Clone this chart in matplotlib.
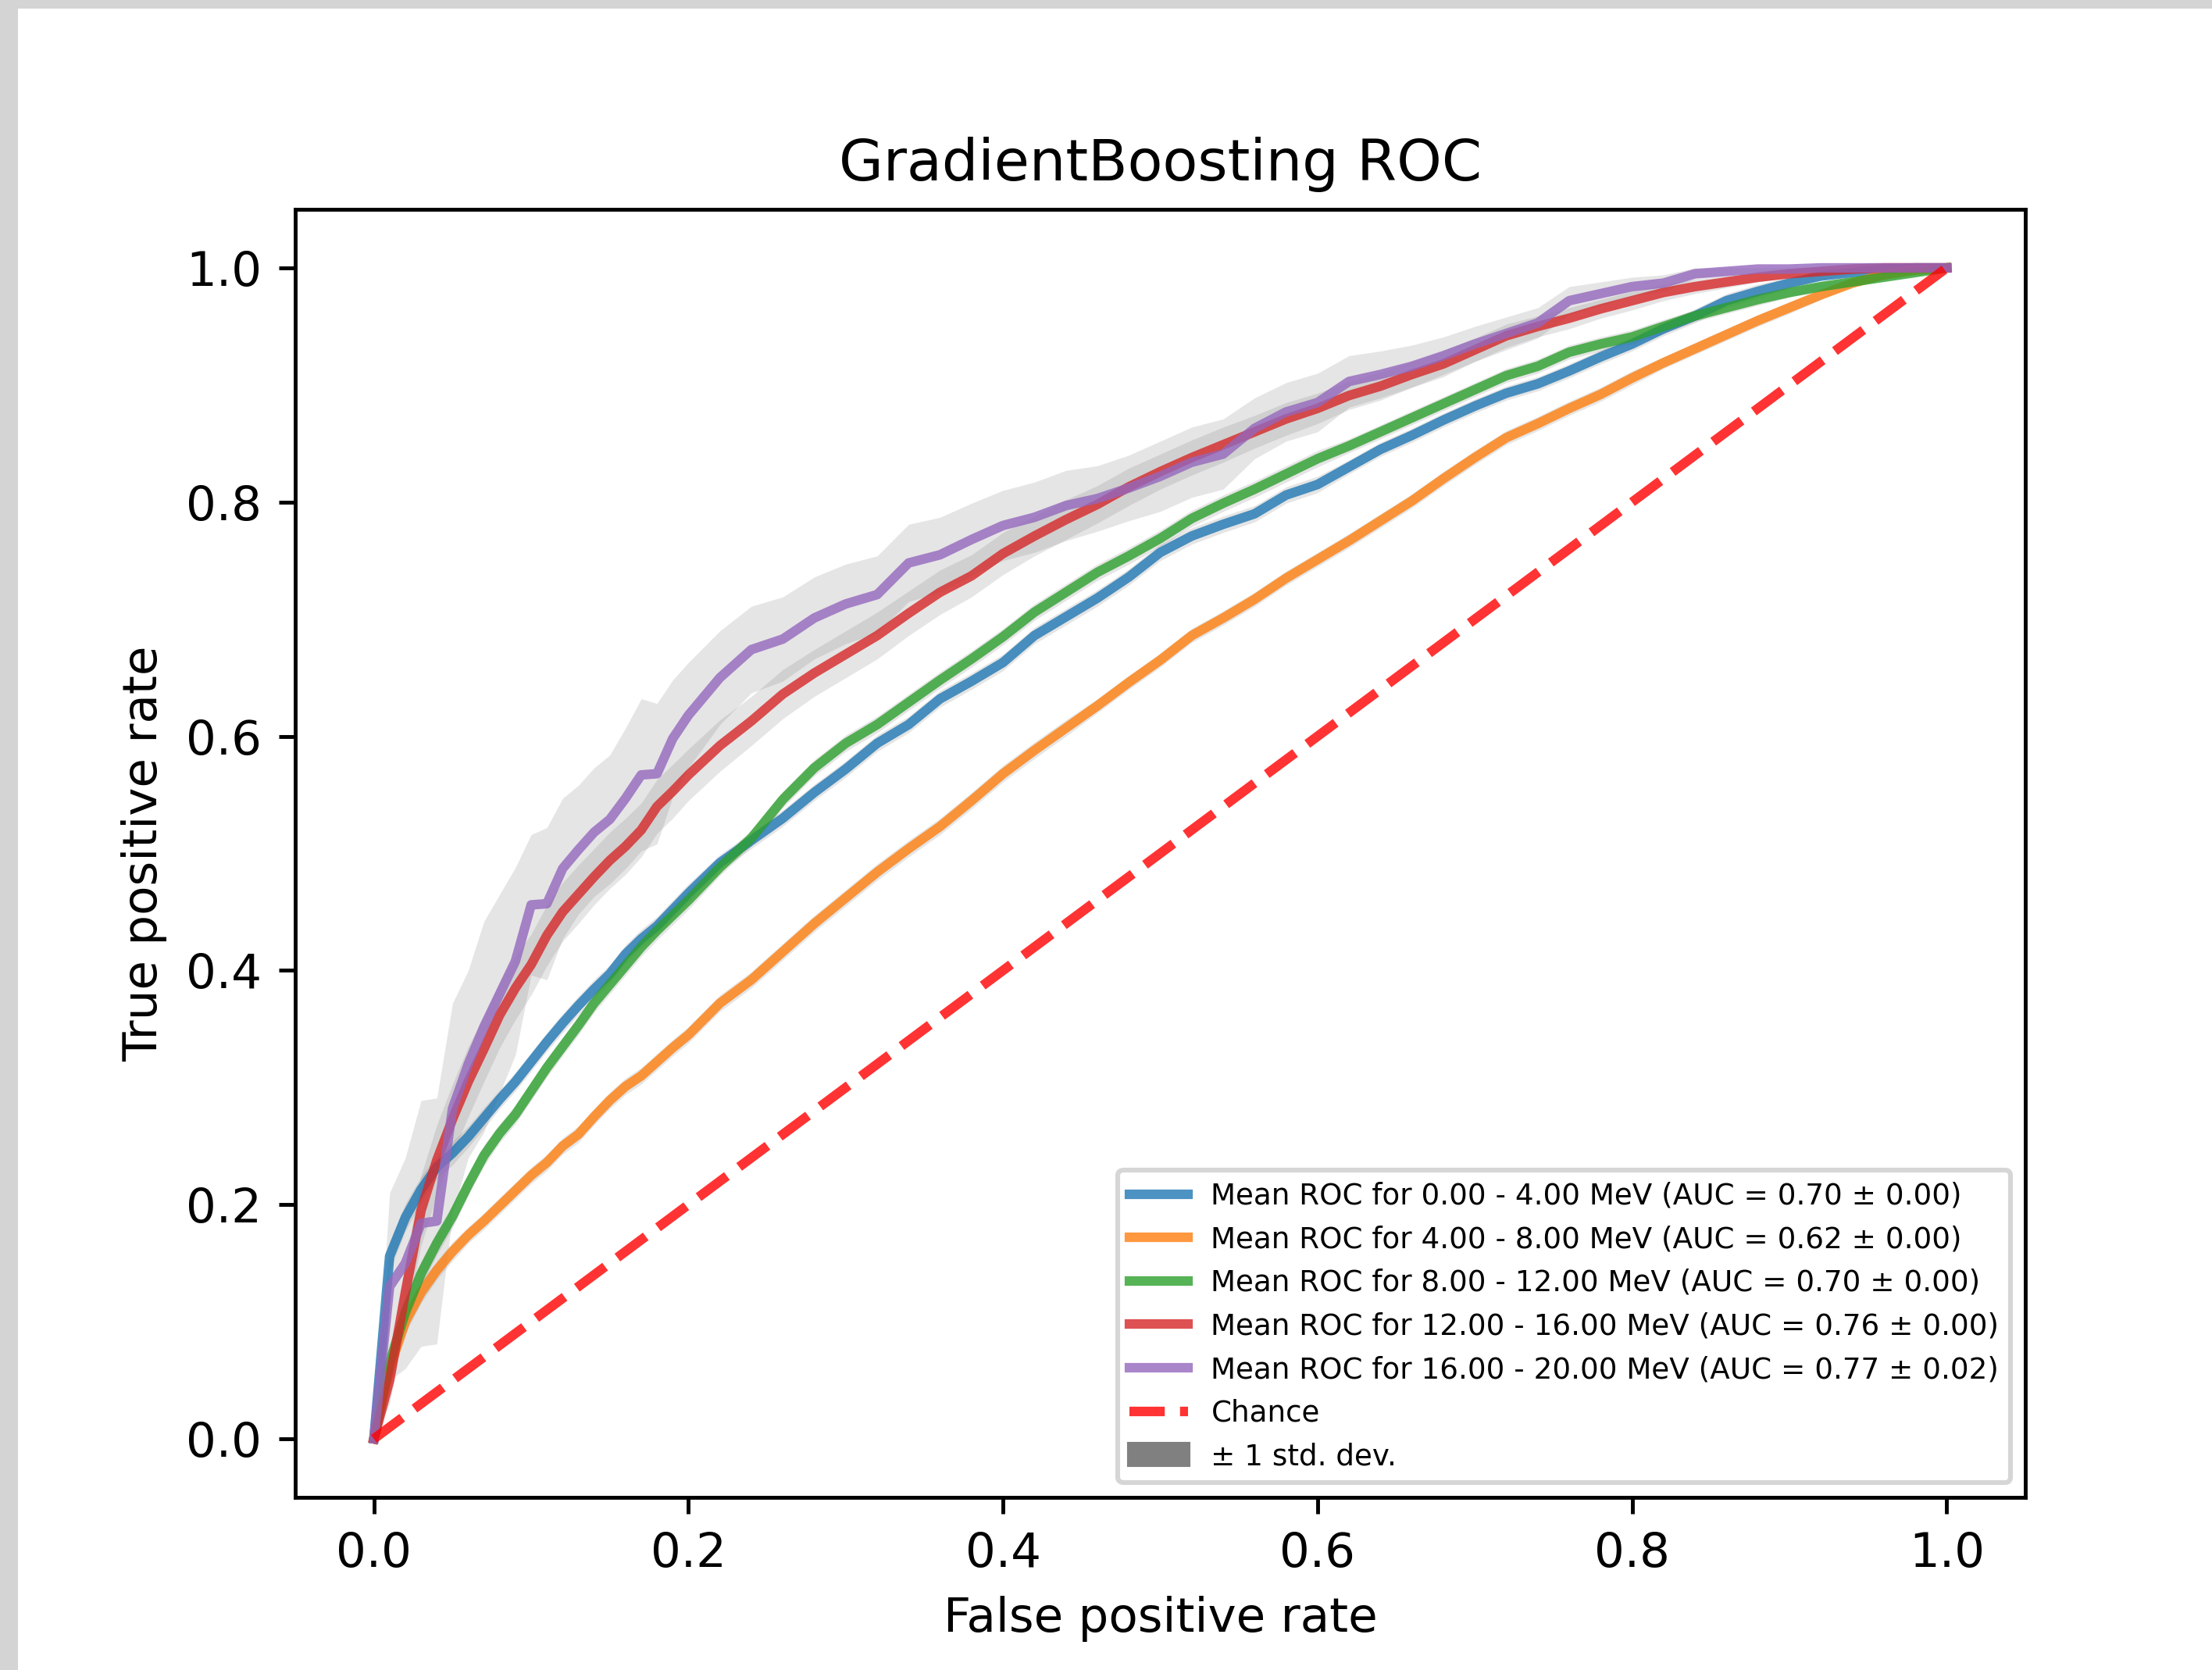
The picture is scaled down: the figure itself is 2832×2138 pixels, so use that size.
"""
GradientBoosting ROC: mean ROC curve per energy bin with +/- 1 std band.
"""
import matplotlib
matplotlib.use("Agg")
import matplotlib.pyplot as plt
from matplotlib.patches import Patch, Rectangle

DPI = 440

# mean false positive rate grid (fine at the start, coarser afterwards)
FPR = [0.00, 0.01, 0.02, 0.03, 0.04, 0.05, 0.06, 0.07, 0.08, 0.09,
       0.10, 0.11, 0.12, 0.13, 0.14, 0.15, 0.16, 0.17, 0.18, 0.19, 0.20,
       0.22, 0.24, 0.26, 0.28, 0.30, 0.32, 0.34, 0.36, 0.38, 0.40,
       0.42, 0.44, 0.46, 0.48, 0.50, 0.52, 0.54, 0.56, 0.58, 0.60,
       0.62, 0.64, 0.66, 0.68, 0.70, 0.72, 0.74, 0.76, 0.78, 0.80,
       0.82, 0.84, 0.86, 0.88, 0.90, 0.92, 0.94, 0.96, 0.98, 1.00]

BINS = ["0.00 - 4.00", "4.00 - 8.00", "8.00 - 12.00", "12.00 - 16.00", "16.00 - 20.00"]
AUC_MEAN = [0.70, 0.62, 0.70, 0.76, 0.77]
AUC_STD = [0.00, 0.00, 0.00, 0.00, 0.02]

TPR_0_4 = [0.000, 0.156, 0.189, 0.213, 0.232, 0.244, 0.258, 0.274, 0.290, 0.305,
           0.322, 0.339, 0.355, 0.370, 0.384, 0.397, 0.414, 0.427, 0.438, 0.452, 0.466,
           0.492, 0.511, 0.530, 0.552, 0.572, 0.594, 0.610, 0.632, 0.647, 0.663,
           0.686, 0.702, 0.718, 0.736, 0.757, 0.771, 0.781, 0.790, 0.806, 0.815,
           0.830, 0.845, 0.857, 0.870, 0.882, 0.893, 0.901, 0.912, 0.924, 0.935,
           0.948, 0.959, 0.972, 0.980, 0.987, 0.993, 0.996, 0.999, 1.000, 1.000]
TPR_4_8 = [0.000, 0.060, 0.100, 0.125, 0.144, 0.160, 0.174, 0.186, 0.199, 0.212,
           0.225, 0.236, 0.250, 0.260, 0.275, 0.289, 0.301, 0.310, 0.322, 0.334, 0.345,
           0.372, 0.392, 0.416, 0.440, 0.462, 0.484, 0.504, 0.523, 0.545, 0.568,
           0.588, 0.607, 0.626, 0.646, 0.665, 0.686, 0.701, 0.717, 0.735, 0.751,
           0.767, 0.784, 0.801, 0.820, 0.838, 0.855, 0.867, 0.880, 0.892, 0.906,
           0.919, 0.931, 0.943, 0.955, 0.966, 0.977, 0.987, 0.994, 0.998, 1.000]
TPR_8_12 = [0.000, 0.065, 0.108, 0.141, 0.167, 0.190, 0.217, 0.242, 0.261, 0.277,
            0.297, 0.317, 0.335, 0.353, 0.372, 0.388, 0.404, 0.420, 0.434, 0.447, 0.460,
            0.488, 0.513, 0.546, 0.573, 0.594, 0.610, 0.629, 0.648, 0.666, 0.685,
            0.706, 0.723, 0.740, 0.754, 0.769, 0.786, 0.799, 0.811, 0.824, 0.837,
            0.848, 0.860, 0.872, 0.884, 0.896, 0.908, 0.916, 0.928, 0.935, 0.941,
            0.950, 0.959, 0.966, 0.973, 0.979, 0.984, 0.988, 0.992, 0.996, 1.000]
TPR_12_16 = [0.000, 0.050, 0.125, 0.195, 0.238, 0.273, 0.305, 0.333, 0.362, 0.385,
             0.405, 0.430, 0.450, 0.465, 0.480, 0.494, 0.506, 0.520, 0.540, 0.553, 0.567,
             0.592, 0.613, 0.636, 0.654, 0.670, 0.686, 0.705, 0.723, 0.737, 0.756,
             0.771, 0.785, 0.798, 0.813, 0.826, 0.838, 0.849, 0.860, 0.871, 0.880,
             0.891, 0.899, 0.909, 0.918, 0.930, 0.942, 0.950, 0.957, 0.965, 0.972,
             0.979, 0.984, 0.988, 0.992, 0.995, 0.997, 0.999, 1.000, 1.000, 1.000]
TPR_16_20 = [0.000, 0.130, 0.150, 0.184, 0.186, 0.282, 0.320, 0.352, 0.380, 0.408,
             0.456, 0.457, 0.487, 0.503, 0.518, 0.529, 0.547, 0.567, 0.568, 0.598, 0.618,
             0.650, 0.674, 0.683, 0.701, 0.713, 0.721, 0.748, 0.755, 0.768, 0.780,
             0.787, 0.797, 0.803, 0.812, 0.822, 0.834, 0.841, 0.863, 0.877, 0.885,
             0.903, 0.909, 0.916, 0.925, 0.935, 0.944, 0.953, 0.972, 0.978, 0.984,
             0.987, 0.995, 0.997, 0.999, 0.999, 1.000, 1.000, 1.000, 1.000, 1.000]

STD_0_4 = [0.000, 0.012, 0.012, 0.011, 0.010, 0.010, 0.009, 0.009, 0.008, 0.008,
           0.008, 0.008, 0.008, 0.008, 0.008, 0.008, 0.008, 0.008, 0.008, 0.008, 0.008,
           0.007, 0.007, 0.007, 0.007, 0.007, 0.007, 0.007, 0.007, 0.007, 0.007,
           0.007, 0.007, 0.007, 0.007, 0.007, 0.007, 0.007, 0.007, 0.007, 0.007,
           0.006, 0.006, 0.006, 0.006, 0.006, 0.006, 0.006, 0.006, 0.006, 0.006,
           0.006, 0.006, 0.006, 0.006, 0.005, 0.003, 0.002, 0.001, 0.000, 0.000]
STD_4_8 = [0.000, 0.010, 0.010, 0.009, 0.008, 0.008, 0.007, 0.007, 0.007, 0.007,
           0.007, 0.007, 0.007, 0.007, 0.007, 0.007, 0.007, 0.007, 0.007, 0.007, 0.007,
           0.007, 0.007, 0.007, 0.007, 0.007, 0.007, 0.007, 0.007, 0.007, 0.007,
           0.007, 0.007, 0.006, 0.006, 0.006, 0.006, 0.006, 0.006, 0.006, 0.006,
           0.006, 0.006, 0.006, 0.006, 0.006, 0.006, 0.006, 0.006, 0.006, 0.006,
           0.005, 0.005, 0.005, 0.005, 0.005, 0.004, 0.003, 0.002, 0.001, 0.000]
STD_8_12 = [0.000, 0.012, 0.012, 0.011, 0.010, 0.010, 0.009, 0.009, 0.008, 0.008,
            0.008, 0.008, 0.008, 0.008, 0.008, 0.008, 0.008, 0.008, 0.008, 0.008, 0.008,
            0.007, 0.007, 0.007, 0.007, 0.007, 0.007, 0.007, 0.007, 0.007, 0.007,
            0.007, 0.007, 0.007, 0.007, 0.007, 0.007, 0.007, 0.007, 0.007, 0.007,
            0.006, 0.006, 0.006, 0.006, 0.006, 0.006, 0.006, 0.006, 0.006, 0.006,
            0.006, 0.005, 0.005, 0.005, 0.004, 0.004, 0.003, 0.002, 0.001, 0.000]
STD_12_16 = [0.000, 0.020, 0.025, 0.030, 0.030, 0.030, 0.030, 0.028, 0.028, 0.027,
             0.026, 0.026, 0.025, 0.025, 0.024, 0.024, 0.024, 0.023, 0.023, 0.023, 0.022,
             0.022, 0.021, 0.021, 0.020, 0.020, 0.020, 0.019, 0.019, 0.018, 0.018,
             0.017, 0.017, 0.016, 0.016, 0.015, 0.015, 0.015, 0.014, 0.014, 0.013,
             0.012, 0.012, 0.011, 0.011, 0.010, 0.010, 0.009, 0.009, 0.008, 0.008,
             0.007, 0.006, 0.005, 0.004, 0.003, 0.002, 0.001, 0.000, 0.000, 0.000]
STD_16_20 = [0.000, 0.080, 0.090, 0.105, 0.105, 0.090, 0.080, 0.090, 0.085, 0.080,
             0.060, 0.065, 0.060, 0.055, 0.055, 0.055, 0.060, 0.065, 0.060, 0.050, 0.045,
             0.040, 0.037, 0.036, 0.035, 0.034, 0.033, 0.033, 0.032, 0.031, 0.030,
             0.030, 0.030, 0.028, 0.028, 0.030, 0.030, 0.030, 0.026, 0.025, 0.025,
             0.022, 0.020, 0.018, 0.016, 0.015, 0.014, 0.013, 0.012, 0.010, 0.008,
             0.007, 0.005, 0.004, 0.003, 0.002, 0.001, 0.000, 0.000, 0.000, 0.000]

TPRS = [TPR_0_4, TPR_4_8, TPR_8_12, TPR_12_16, TPR_16_20]
STDS = [STD_0_4, STD_4_8, STD_8_12, STD_12_16, STD_16_20]
COLORS = ["tab:blue", "tab:orange", "tab:green", "tab:red", "tab:purple"]


def main():
    fig = plt.figure(figsize=(2832 / DPI, 2138 / DPI), dpi=DPI, facecolor="#d4d4d4")
    # white canvas inside the grey screenshot border (left + top strips)
    fig.patches.append(Rectangle((23 / 2832, 0), 1, 1 - 11 / 2138,
                                 transform=fig.transFigure, facecolor="white",
                                 edgecolor="none", zorder=-10))
    ax = fig.add_axes([378 / 2832, 1 - 1917 / 2138, 2215 / 2832, 1649 / 2138])

    handles = []
    for b, tpr, std, color, auc, auc_sd in zip(BINS, TPRS, STDS, COLORS, AUC_MEAN, AUC_STD):
        upper = [min(t + s, 1.0) for t, s in zip(tpr, std)]
        lower = [max(t - s, 0.0) for t, s in zip(tpr, std)]
        ax.fill_between(FPR, lower, upper, color="grey", alpha=0.2, linewidth=0)
        line, = ax.plot(FPR, tpr, color=color, lw=2, alpha=0.8,
                        label=f"Mean ROC for {b} MeV (AUC = {auc:.2f} ± {auc_sd:.2f})")
        handles.append(line)

    chance, = ax.plot([0, 1], [0, 1], linestyle="--", lw=2, color="r", alpha=0.8,
                      label="Chance")
    handles.append(chance)
    handles.append(Patch(color="grey", label="± 1 std. dev."))

    ax.set_xlim(-0.05, 1.05)
    ax.set_ylim(-0.05, 1.05)
    ax.set_xlabel("False positive rate")
    ax.set_ylabel("True positive rate")
    ax.set_title("GradientBoosting ROC")
    ax.legend(handles=handles, loc="lower right", fontsize=6.1)

    fig.savefig("out.png", dpi=DPI)
    plt.close(fig)


if __name__ == "__main__":
    main()
